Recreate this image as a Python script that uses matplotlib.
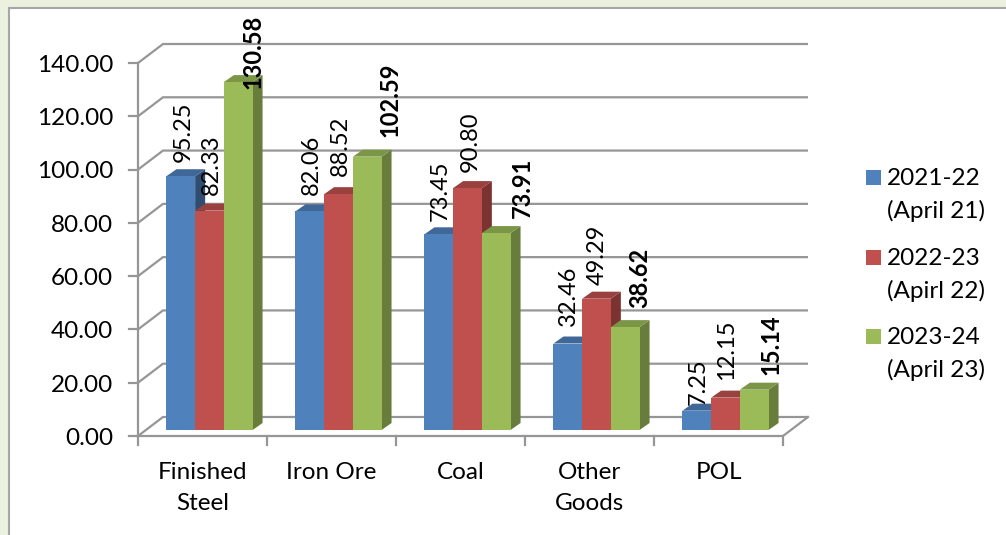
import matplotlib
matplotlib.use("Agg")
import matplotlib.pyplot as plt
from matplotlib.patches import Polygon, Rectangle

plt.rcParams['font.family'] = ['Lato', 'DejaVu Sans']

categories = ["Finished\nSteel", "Iron Ore", "Coal", "Other\nGoods", "POL"]
v2021 = [95.25, 82.06, 73.45, 32.46, 7.25]
v2022 = [82.33, 88.52, 90.80, 49.29, 12.15]
v2023 = [130.58, 102.59, 73.91, 38.62, 15.14]
series_names = ["2021-22\n(April 21)", "2022-23\n(Apirl 22)", "2023-24\n(April 23)"]
yticks = [0, 20, 40, 60, 80, 100, 120, 140]

# label nudges in pixels (x, y) off the front top of each bar
nudge2021 = [(2, 14), (2, 16), (1, 13), (1, 18), (1, 6)]
nudge2022 = [(2, 16), (2, 18), (3, 16), (1, 14), (1, 18)]
nudge2023 = [(15, -7), (23, 20), (26, 15), (15, 19), (17, 15)]

W, H = 1006, 535
GRAY = "#969696"
FACE = ["#4F81BD", "#C0504D", "#9BBB59"]
TOP = ["#3F6797", "#9A403E", "#7C9647"]
SIDE = ["#2F4D71", "#7A3331", "#687D3B"]

fig = plt.figure(figsize=(W / 100, H / 100), dpi=100, facecolor="#EBF1DE")

# white panel behind the chart
fig.patches.append(Rectangle((9 / W, -0.05), 1, 1.05 - 8 / H, transform=fig.transFigure,
                             facecolor="white", edgecolor="#A6A6A6", linewidth=1.5, zorder=-1))

x0, x1, y0, y1 = 138, 783, 436, 63
ax = fig.add_axes([x0 / W, 1 - y0 / H, (x1 - x0) / W, (y0 - y1) / H])
ax.set_xlim(0, 5)
ax.set_ylim(0, 140)
ax.axis("off")

ux = (x1 - x0) / 5      # pixels per category
uy = (y0 - y1) / 140    # pixels per unit
DX, DY = 25 / ux, 19 / uy        # wall depth
FX, FY = 7 / ux, 6 / uy          # bar front, set in from the front edge
BX, BY = 10 / ux, 7 / uy         # bar depth
bw = 0.2225

# walls and gridlines
for t in yticks:
    ax.plot([0, DX, 5 + DX], [t, t + DY, t + DY], color=GRAY, lw=1.6, zorder=1, clip_on=False,
            solid_capstyle="butt", solid_joinstyle="miter")
    ax.plot([-9 / ux, 0], [t, t], color=GRAY, lw=1.6, zorder=1, clip_on=False)
    ax.text(-25 / ux, t - 0.9, f"{t:.2f}", ha="right", va="center", fontsize=17.5, color="black")
ax.plot([0, 0], [0, 140], color=GRAY, lw=1.6, zorder=1, clip_on=False)
ax.plot([0, 5, 5 + DX], [0, 0, DY], color=GRAY, lw=1.6, zorder=1, clip_on=False,
        solid_joinstyle="miter")
for i in range(6):
    ax.plot([i, i], [0, -9 / uy], color=GRAY, lw=1.6, zorder=1, clip_on=False)

# bars
allvals = [v2021, v2022, v2023]
nudges = [nudge2021, nudge2022, nudge2023]
for s, vals in enumerate(allvals):
    for i, v in enumerate(vals):
        left = i + (1 - 3 * bw) / 2 + s * bw + FX
        right = left + bw
        bot = FY
        top = FY + v
        z = 3 + i + s * 0.1
        ax.add_patch(Polygon([(right, bot), (right + BX, bot + BY), (right + BX, top + BY), (right, top)],
                             facecolor=SIDE[s], edgecolor="none", zorder=z, clip_on=False))
        ax.add_patch(Polygon([(left, top), (right, top), (right + BX, top + BY), (left + BX, top + BY)],
                             facecolor=TOP[s], edgecolor="none", zorder=z, clip_on=False))
        ax.add_patch(Rectangle((left, bot), bw, v, facecolor=FACE[s], edgecolor="none", zorder=z, clip_on=False))
        ax.annotate(f"{v:.2f}", xy=(left + bw / 2, top), xytext=nudges[s][i], textcoords="offset pixels",
                    rotation=90, ha="center", va="bottom", fontsize=17, color="black",
                    fontweight="bold" if s == 2 else "normal", zorder=20, annotation_clip=False)

# category labels
for i, c in enumerate(categories):
    ax.text(i + 0.5, -(471 - y0 - 9) / uy, c, ha="center", va="top", fontsize=17.5, color="black",
            linespacing=1.6)

# legend
leg_y = [170, 250, 329]
for s, name in enumerate(series_names):
    fig.patches.append(Rectangle((866 / W, 1 - (leg_y[s] + 15) / H), 15 / W, 15 / H, transform=fig.transFigure,
                                 facecolor=FACE[s], edgecolor="none"))
    fig.text(887 / W, 1 - (leg_y[s] - 2) / H, name, ha="left", va="top", fontsize=17.5, color="black",
             linespacing=1.6)

fig.savefig("out.png", dpi=100, facecolor=fig.get_facecolor())
